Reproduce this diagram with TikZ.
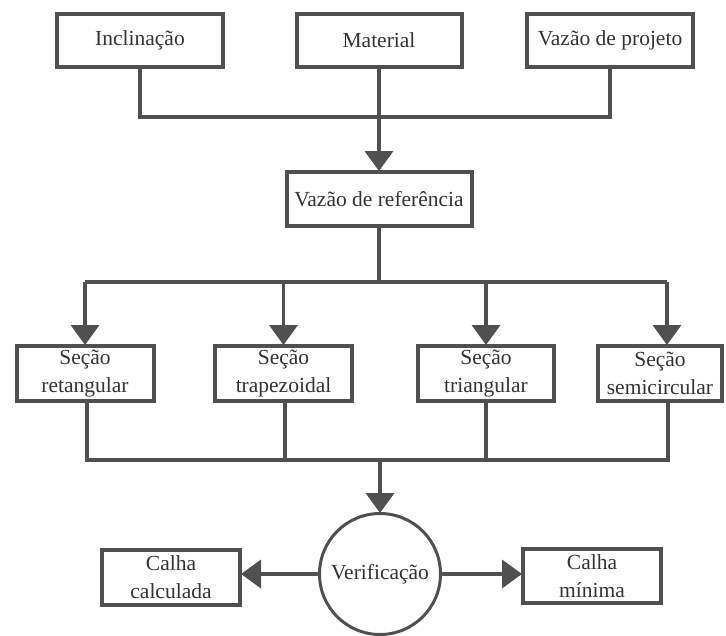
\documentclass[tikz,border=0pt]{standalone}
\usepackage{fontspec}
\setmainfont{Liberation Serif}
\usetikzlibrary{arrows.meta}
\definecolor{linegray}{HTML}{505050}
\definecolor{textgray}{HTML}{333333}
\begin{document}
\begin{tikzpicture}[x=1pt,y=-1pt,
  box/.style={draw=linegray,line width=4pt,rectangle,inner sep=0pt,
    text=textgray,align=center,
    font=\fontsize{21.5}{28}\selectfont},
  roundbox/.style={draw=linegray,line width=3pt,circle,inner sep=0pt,
    minimum size=121pt,text=textgray,
    font=\fontsize{21.5}{28}\selectfont},
  conn/.style={draw=linegray,line width=3.8pt},
  arr/.style={conn,-{Triangle[width=28pt,length=20pt]},shorten >=-1pt}]
\useasboundingbox (0,0) rectangle (726,635);

% top row of inputs
\node[box,minimum width=166pt,minimum height=53pt] (incl) at (140,40.5) {Inclinação};
\node[box,minimum width=165pt,minimum height=53pt] (mat) at (379,40.5) {Material};
\node[box,minimum width=166pt,minimum height=53pt] (proj) at (610,40.5) {Vazão de projeto};

% reference flow
\node[box,minimum width=185pt,minimum height=54pt] (ref) at (379,199) {Vazão de referência};

% section types
\node[box,minimum width=137pt,minimum height=55pt] (s1) at (85,373.5) {Seção\\retangular};
\node[box,minimum width=137pt,minimum height=55pt] (s2) at (283.5,373.5) {Seção\\trapezoidal};
\node[box,minimum width=136pt,minimum height=55pt] (s3) at (486,373.5) {Seção\\triangular};
\node[box,minimum width=124pt,minimum height=55pt] (s4) at (660,373.5) {Seção\\semicircular};

% check and outcomes
\node[roundbox] (ver) at (380,574) {Verificação};
\node[box,minimum width=138pt,minimum height=55pt] (calc) at (171,577) {Calha\\calculada};
\node[box,minimum width=138pt,minimum height=54pt] (min) at (592,576) {Calha\\mínima};

% inputs join into the reference flow
\coordinate (tb) at (379,117);
\draw[conn] (incl.south) -- (incl.south |- tb) -- (proj.south |- tb) -- (proj.south);
\draw[arr] (mat.south) -- (ref.north);

% reference flow splits to the four sections
\coordinate (b1) at (85,282);
\coordinate (b2) at (283.5,282);
\coordinate (b3) at (486,282);
\coordinate (b4) at (667,282);
\draw[conn] (ref.south) -- (ref.south |- b1);
\draw[conn] (b1) -- (b4);
\draw[arr] (b1) -- (b1 |- s1.north);
\draw[arr] (b2) -- (b2 |- s2.north);
\draw[arr] (b3) -- (b3 |- s3.north);
\draw[arr] (b4) -- (b4 |- s4.north);

% sections gather into the check
\coordinate (c1) at (87,460);
\coordinate (c2) at (285,460);
\coordinate (c3) at (486,460);
\coordinate (c4) at (668,460);
\draw[conn] (c1 |- s1.south) -- (c1) -- (c4) -- (c4 |- s4.south);
\draw[conn] (c2 |- s2.south) -- (c2);
\draw[conn] (c3 |- s3.south) -- (c3);
\draw[arr] (ver.north |- c1) -- (ver.north);

% outcomes
\draw[arr] (ver.west) -- (ver.west -| calc.east);
\draw[arr] (ver.east) -- (ver.east -| min.west);
\end{tikzpicture}
\end{document}
